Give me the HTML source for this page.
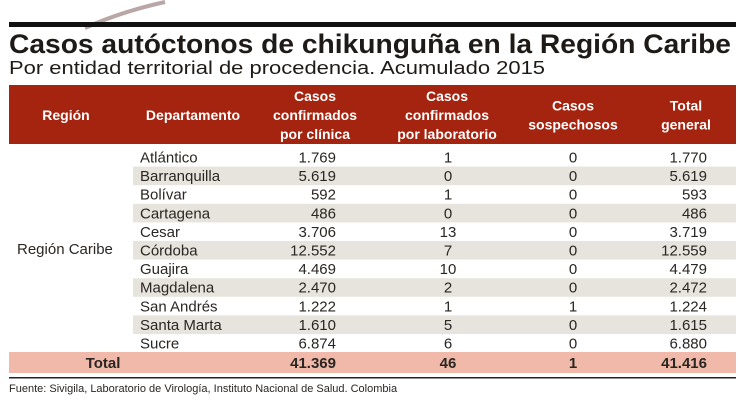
<!DOCTYPE html>
<html><head><meta charset="utf-8"><style>
body{margin:0;background:#fff}
svg{display:block;font-family:"Liberation Sans",sans-serif}
</style></head><body>
<svg width="740" height="405" viewBox="0 0 740 405">
<path d="M85 28 Q120 12 165 2" stroke="#8a6a6a" stroke-width="4" fill="none" opacity="0.6"/>
<rect x="9" y="22" width="727" height="5" fill="#111"/>
<text x="9" y="53" font-size="27" font-weight="bold" fill="#1e1a17" textLength="722" lengthAdjust="spacingAndGlyphs">Casos autóctonos de chikunguña en la Región Caribe</text>
<text x="9" y="74" font-size="18" fill="#1e1a17" textLength="536" lengthAdjust="spacingAndGlyphs">Por entidad territorial de procedencia. Acumulado 2015</text>
<rect x="9" y="85" width="727" height="59" fill="#a4240f"/>
<g id="hdr" fill="#fff" font-size="14" font-weight="bold" text-anchor="middle"></g>
<g id="body" font-size="15" fill="#2a2623"></g>
<rect x="9" y="352" width="727" height="21" fill="#f0b9a9"/>
<g font-size="15" font-weight="bold" fill="#2a2623">
<text x="103" y="368" text-anchor="middle">Total</text>
<text x="336" y="368" text-anchor="end">41.369</text>
<text x="448" y="368" text-anchor="middle">46</text>
<text x="573" y="368" text-anchor="middle">1</text>
<text x="707" y="368" text-anchor="end">41.416</text>
</g>
<rect x="9" y="377" width="727" height="1.5" fill="#222"/>
<text x="9" y="392" font-size="11" fill="#2a2623">Fuente: Sivigila, Laboratorio de Virología, Instituto Nacional de Salud. Colombia</text>
<text x="17" y="254" font-size="15" fill="#2a2623">Región Caribe</text>
</svg>
<script>
const departments=["Atlántico","Barranquilla","Bolívar","Cartagena","Cesar","Córdoba","Guajira","Magdalena","San Andrés","Santa Marta","Sucre"];
const clinica=["1.769","5.619","592","486","3.706","12.552","4.469","2.470","1.222","1.610","6.874"];
const laboratorio=["1","0","1","0","13","7","10","2","1","5","6"];
const sospechosos=["0","0","0","0","0","0","0","0","1","0","0"];
const totalGeneral=["1.770","5.619","593","486","3.719","12.559","4.479","2.472","1.224","1.615","6.880"];
const headers=[["Región"],["Departamento"],["Casos","confirmados","por clínica"],["Casos","confirmados","por laboratorio"],["Casos","sospechosos"],["Total","general"]];
const NS="http://www.w3.org/2000/svg";
const hx=[66,193,315,447,573,686];
const hdr=document.getElementById('hdr');
headers.forEach((lines,i)=>{
  const n=lines.length;const start=115-(n-1)*9.5;
  lines.forEach((l,j)=>{
    const t=document.createElementNS(NS,'text');
    t.setAttribute('x',hx[i]);t.setAttribute('y',start+j*19+5);
    t.textContent=l;
    
    
    hdr.appendChild(t);
  });
});
const body=document.getElementById('body');
const rowH=18.6,top0=148;
function mk(tag,attrs,txt){const e=document.createElementNS(NS,tag);for(const k in attrs)e.setAttribute(k,attrs[k]);if(txt!==undefined)e.textContent=txt;body.appendChild(e);return e;}
departments.forEach((d,i)=>{
  const y=top0+i*rowH;
  if(i%2===1){
    const r=mk('rect',{x:133,y:y,width:603,height:rowH,fill:'#e6e4dc'});
    
    
  }
  const by=y+14.5;
  const a=mk('text',{x:140,y:by},d);
  
  
  const b=mk('text',{x:336,y:by,'text-anchor':'end'},clinica[i]);
  
  
  const c=mk('text',{x:448,y:by,'text-anchor':'middle'},laboratorio[i]);
  
  
  const s=mk('text',{x:573,y:by,'text-anchor':'middle'},sospechosos[i]);
  
  
  const g=mk('text',{x:707,y:by,'text-anchor':'end'},totalGeneral[i]);
  
  
});
</script>
</body></html>
